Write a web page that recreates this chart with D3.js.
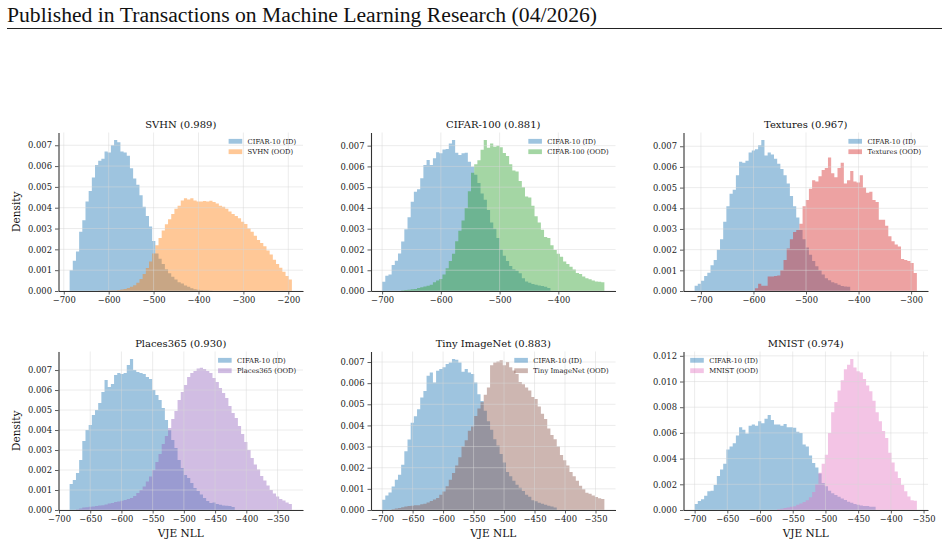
<!DOCTYPE html>
<html>
<head>
<meta charset="utf-8">
<script src="https://cdn.jsdelivr.net/npm/d3@7"></script>
<style>
  body { margin: 0; background: #fff; }
  svg text { font-family: "DejaVu Serif", serif; }
</style>
</head>
<body>
<div id="app"></div>
<script>
// Histogram densities, in units of 1e-3, 70 equal bins between range[0] and range[1]
const DENS = 1e-3;

const svhnRange = [-687, -192];
const svhnId = [1.0, 1.45, 1.9, 2.85, 3.4, 4.3, 4.8, 5.45, 6.05, 6.25,
  6.35, 6.7, 6.65, 7.0, 7.25, 7.15, 6.7, 6.65, 6.5, 5.9,
  5.4, 5.1, 4.6, 4.05, 3.6, 3.1, 2.4, 1.8, 1.55, 1.3,
  1.05, 0.85, 0.68, 0.55, 0.42, 0.36, 0.26, 0.2, 0.13, 0.09,
  0.06, 0.04, 0.03, 0.02, 0.01, 0, 0, 0, 0, 0,
  0, 0, 0, 0, 0, 0, 0, 0, 0, 0,
  0, 0, 0, 0, 0, 0, 0, 0, 0, 0];
const svhnOod = [0, 0, 0, 0, 0, 0, 0, 0, 0, 0.01,
  0.01, 0.01, 0.02, 0.02, 0.03, 0.05, 0.07, 0.1, 0.14, 0.2,
  0.28, 0.4, 0.58, 0.82, 1.1, 1.42, 1.8, 2.2, 2.55, 2.9,
  3.2, 3.45, 3.7, 3.95, 4.1, 4.35, 4.45, 4.4, 4.45, 4.35,
  4.3, 4.3, 4.32, 4.3, 4.33, 4.28, 4.2, 4.1, 4.05, 3.95,
  3.82, 3.7, 3.6, 3.5, 3.33, 3.22, 3.0, 2.85, 2.65, 2.45,
  2.3, 2.15, 1.95, 1.75, 1.5, 1.3, 1.12, 0.92, 0.72, 0.55];
const svhnTicks = [-700, -600, -500, -400, -300, -200];

const c100Range = [-700, -321.6];
const c100Id = [0.45, 0.74, 0.8, 1.25, 1.46, 1.81, 2.38, 2.97, 3.55, 4.3,
  4.78, 4.9, 5.43, 6.07, 6.31, 6.07, 6.39, 6.68, 6.63, 6.82,
  6.84, 7.1, 7.27, 6.66, 6.55, 6.63, 6.66, 6.23, 5.99, 5.6,
  5.2, 4.7, 4.4, 3.9, 3.3, 3.0, 2.55, 2.0, 1.7, 1.45,
  1.2, 1.05, 0.97, 0.85, 0.62, 0.46, 0.4, 0.34, 0.3, 0.26,
  0.24, 0.21, 0.15, 0, 0, 0, 0, 0, 0, 0,
  0, 0, 0, 0, 0, 0, 0, 0, 0, 0];
const c100Ood = [0, 0, 0, 0, 0, 0, 0.02, 0.05, 0.06, 0.08,
  0.1, 0.15, 0.18, 0.22, 0.25, 0.3, 0.42, 0.5, 0.58, 0.8,
  1.1, 1.45, 1.8, 2.4, 2.9, 3.4, 4.0, 4.8, 5.7, 6.1,
  6.3, 6.8, 7.27, 6.9, 7.1, 6.95, 7.0, 6.92, 6.65, 6.5,
  6.1, 5.8, 5.75, 5.3, 5.0, 4.55, 4.5, 4.1, 3.6, 3.3,
  2.95, 2.6, 2.55, 2.2, 1.97, 1.8, 1.65, 1.42, 1.3, 1.17,
  1.04, 0.87, 0.82, 0.7, 0.62, 0.57, 0.5, 0.46, 0.45, 0.42];
const c100Ticks = [-700, -600, -500, -400];

const texRange = [-712, -289];
const texId = [0.25, 0.35, 0.5, 0.72, 0.88, 1.25, 1.5, 2.0, 2.5, 3.35,
  4.1, 4.7, 4.9, 5.6, 6.25, 6.2, 6.3, 6.7, 6.8, 6.85,
  7.05, 7.3, 6.55, 6.7, 6.6, 6.4, 6.15, 5.9, 5.6, 5.2,
  4.6, 4.1, 3.55, 2.95, 2.5, 2.1, 1.75, 1.45, 1.2, 1.0,
  0.8, 0.62, 0.52, 0.42, 0.37, 0.3, 0.24, 0.22, 0.2, 0,
  0, 0, 0, 0, 0, 0, 0, 0, 0, 0,
  0, 0, 0, 0, 0, 0, 0, 0, 0, 0];
const texOod = [0, 0, 0, 0, 0, 0, 0, 0, 0, 0,
  0, 0, 0, 0, 0, 0, 0, 0, 0, 0.13,
  0.35, 0.25, 0.25, 0.7, 0.7, 0.72, 0.75, 1.0, 1.5, 2.05,
  2.5, 2.85, 2.95, 3.25, 4.1, 4.4, 4.95, 5.35, 5.3, 5.55,
  5.85, 5.95, 6.45, 5.7, 5.5, 5.95, 6.2, 5.2, 5.35, 5.8,
  5.3, 5.25, 5.6, 5.0, 4.75, 4.8, 4.4, 4.3, 3.45, 3.45,
  3.15, 2.65, 2.4, 2.25, 2.15, 1.55, 1.5, 1.45, 1.35, 0.87];
const texTicks = [-700, -600, -500, -400, -300];

const plRange = [-683, -327];
const plId = [1.3, 1.5, 1.85, 2.5, 3.45, 4.0, 4.25, 4.75, 5.0, 5.35,
  5.9, 6.5, 6.15, 6.3, 6.75, 6.85, 6.8, 6.85, 7.25, 7.55,
  7.0, 6.9, 6.85, 6.8, 6.65, 6.55, 6.0, 5.75, 5.5, 5.1,
  4.5, 4.0, 3.5, 3.1, 2.5, 2.1, 1.75, 1.6, 1.35, 1.1,
  0.95, 0.78, 0.6, 0.45, 0.35, 0.37, 0.3, 0.26, 0.23, 0.21,
  0.2, 0.15, 0, 0, 0, 0, 0, 0, 0, 0,
  0, 0, 0, 0, 0, 0, 0, 0, 0, 0];
const plOod = [0, 0, 0.03, 0.08, 0.12, 0.14, 0.16, 0.18, 0.2, 0.22,
  0.24, 0.28, 0.32, 0.35, 0.4, 0.43, 0.46, 0.5, 0.55, 0.6,
  0.7, 0.85, 1.0, 1.17, 1.42, 1.67, 2.0, 2.4, 2.8, 3.3,
  3.7, 4.1, 4.55, 4.95, 5.5, 5.9, 6.25, 6.65, 6.85, 6.95,
  7.08, 7.12, 7.05, 6.95, 6.85, 6.6, 6.4, 6.1, 5.85, 5.6,
  5.2, 4.85, 4.6, 4.2, 3.8, 3.4, 3.0, 2.6, 2.28, 2.02,
  1.7, 1.48, 1.22, 1.0, 0.82, 0.68, 0.55, 0.47, 0.38, 0.3];
const plTicks = [-700, -650, -600, -550, -500, -450, -400, -350];

const tinRange = [-700, -335.4];
const tinId = [0.48, 0.68, 0.83, 1.11, 1.43, 1.67, 2.14, 2.78, 3.33, 4.13,
  4.44, 4.76, 5.32, 5.63, 6.35, 6.5, 6.03, 6.59, 6.67, 6.75,
  6.9, 6.98, 7.14, 7.11, 6.98, 6.54, 6.67, 6.5, 6.43, 6.03,
  5.48, 5.16, 4.7, 4.2, 3.8, 3.35, 3.05, 2.65, 2.25, 1.8,
  1.6, 1.38, 1.2, 1.05, 0.9, 0.72, 0.63, 0.46, 0.41, 0.34,
  0.3, 0.25, 0.2, 0.17, 0.12, 0, 0, 0, 0, 0,
  0, 0, 0, 0, 0, 0, 0, 0, 0, 0];
const tinOod = [0, 0, 0, 0.03, 0.07, 0.1, 0.13, 0.16, 0.19, 0.2,
  0.22, 0.23, 0.27, 0.3, 0.36, 0.42, 0.5, 0.57, 0.72, 0.88,
  1.12, 1.43, 1.75, 2.1, 2.5, 3.0, 3.3, 3.75, 3.95, 4.45,
  4.8, 5.1, 5.45, 5.8, 6.85, 6.98, 7.02, 7.08, 6.85, 7.0,
  6.75, 6.6, 6.43, 6.05, 5.95, 5.8, 5.65, 5.35, 5.25, 4.9,
  4.55, 4.3, 3.85, 3.55, 3.35, 3.0, 2.6, 2.35, 2.1, 1.8,
  1.6, 1.38, 1.15, 0.98, 0.82, 0.77, 0.68, 0.62, 0.56, 0.52];
const tinTicks = [-700, -650, -600, -550, -500, -450, -400, -350];

const mnRange = [-700, -360.2];
const mnId = [0.47, 0.7, 0.83, 1.1, 1.45, 1.5, 1.95, 2.65, 3.15, 3.6,
  4.7, 4.95, 5.2, 5.8, 6.45, 6.25, 5.95, 6.55, 6.65, 6.55,
  6.9, 6.75, 7.1, 7.4, 7.0, 6.65, 6.65, 6.55, 6.7, 6.45,
  6.45, 6.4, 6.1, 6.0, 5.1, 4.95, 4.25, 3.65, 3.3, 2.85,
  2.1, 1.85, 1.5, 1.3, 1.17, 1.04, 0.9, 0.78, 0.65, 0.57,
  0.47, 0.4, 0.35, 0.31, 0.31, 0.26, 0.26, 0, 0, 0,
  0, 0, 0, 0, 0, 0, 0, 0, 0, 0];
const mnOod = [0, 0, 0, 0, 0, 0, 0, 0, 0, 0,
  0, 0, 0, 0, 0, 0, 0, 0, 0, 0,
  0, 0, 0, 0, 0, 0, 0.05, 0.1, 0.15, 0.2,
  0.26, 0.3, 0.4, 0.5, 0.62, 0.75, 1.0, 1.4, 2.0, 2.9,
  3.6, 4.3, 6.0, 7.6, 8.4, 9.3, 10.1, 10.95, 11.3, 11.75,
  11.1, 10.8, 10.7, 10.2, 9.7, 9.25, 8.5, 7.6, 6.9, 6.15,
  5.6, 4.45, 3.7, 3.0, 2.5, 1.95, 1.45, 1.05, 0.75, 0.72];
const mnTicks = [-700, -650, -600, -550, -500, -450, -400, -350];

const oodNames = ["SVHN", "CIFAR-100", "Textures", "Places365", "Tiny ImageNet", "MNIST"];
const aurocs = ["0.989", "0.881", "0.967", "0.930", "0.883", "0.974"];
const idName = "CIFAR-10";

const panels = [
  {range: svhnRange, id: svhnId, ood: svhnOod, ticks: svhnTicks, color: "#ff7f0e", legend: "right"},
  {range: c100Range, id: c100Id, ood: c100Ood, ticks: c100Ticks, color: "#2ca02c", legend: "right"},
  {range: texRange, id: texId, ood: texOod, ticks: texTicks, color: "#d62728", legend: "right"},
  {range: plRange, id: plId, ood: plOod, ticks: plTicks, color: "#9467bd", legend: "right"},
  {range: tinRange, id: tinId, ood: tinOod, ticks: tinTicks, color: "#8c564b", legend: "right"},
  {range: mnRange, id: mnId, ood: mnOod, ticks: mnTicks, color: "#e377c2", legend: "left"}
];

const idColor = "#1f77b4";
const alpha = 0.43;

const colLeft = [58.5, 371, 683.5];
const rowTop = [132.5, 351.5];
const pw = 244.5, ph = 158.5;

let svg = d3.select("#app")
  .append("svg")
    .attr("width", 948)
    .attr("height", 545);

// page header
svg.append("text")
  .attr("x", 7)
  .attr("y", 21.5)
  .attr("font-size", 20)
  .attr("textLength", 590)
  .attr("lengthAdjust", "spacingAndGlyphs")
  .style("font-family", "'Liberation Serif', serif")
  .attr("fill", "#111")
  .text("Published in Transactions on Machine Learning Research (04/2026)");
svg.append("line")
  .attr("x1", 7).attr("x2", 942)
  .attr("y1", 28.5).attr("y2", 28.5)
  .attr("stroke", "#222")
  .attr("stroke-width", 1.2);

panels.forEach(function(p, k) {
  let col = k % 3, row = Math.floor(k / 3);
  let g = svg.append("g")
    .attr("transform", "translate(" + colLeft[col] + "," + rowTop[row] + ")");

  let lo = p.range[0], hi = p.range[1];
  let pad = (hi - lo) * 0.05;
  let x = d3.scaleLinear().domain([lo - pad, hi + pad]).range([0, pw]);
  let yMax = d3.max(p.id.concat(p.ood)) * DENS * 1.05;
  let y = d3.scaleLinear().domain([0, yMax]).range([ph, 0]);
  let yTicks = y.ticks(8);

  let binW = (hi - lo) / p.id.length;
  function steps(vals) {
    let pts = vals.map((v, i) => [lo + i * binW, v * DENS]);
    pts.push([hi, vals[vals.length - 1] * DENS]);
    return pts;
  }
  let area = d3.area()
    .curve(d3.curveStepAfter)
    .x(d => x(d[0]))
    .y0(y(0))
    .y1(d => y(d[1]));

  g.append("path").attr("d", area(steps(p.id)))
    .attr("fill", idColor).attr("fill-opacity", alpha);
  g.append("path").attr("d", area(steps(p.ood)))
    .attr("fill", p.color).attr("fill-opacity", alpha);

  // grid
  let grid = g.append("g").attr("stroke", "#d8d8d8").attr("stroke-opacity", 0.6).attr("stroke-width", 0.8);
  grid.selectAll(".gx").data(p.ticks).enter().append("line")
    .attr("x1", d => x(d)).attr("x2", d => x(d))
    .attr("y1", 0).attr("y2", ph);
  grid.selectAll(".gy").data(yTicks).enter().append("line")
    .attr("x1", 0).attr("x2", pw)
    .attr("y1", d => y(d)).attr("y2", d => y(d));

  // axes
  let ax = g.append("g")
    .attr("transform", "translate(0," + ph + ")")
    .call(d3.axisBottom(x).tickValues(p.ticks).tickSize(3.5).tickSizeOuter(0).tickPadding(3).tickFormat(d3.format("d")));
  let ay = g.append("g")
    .call(d3.axisLeft(y).tickValues(yTicks).tickSize(3.5).tickSizeOuter(0).tickPadding(3).tickFormat(d3.format(".3f")));
  [ax, ay].forEach(function(a) {
    a.select(".domain").attr("stroke", "#333").attr("stroke-width", 1.1);
    a.selectAll(".tick line").attr("stroke", "#333").attr("stroke-width", 0.8);
    a.selectAll(".tick text")
      .attr("font-size", 8.4)
      .attr("fill", "#222")
      .style("font-family", "'DejaVu Serif', serif");
  });

  // title
  g.append("text")
    .attr("x", pw / 2).attr("y", -5)
    .attr("text-anchor", "middle")
    .attr("font-size", 10)
    .attr("fill", "#111")
    .text(oodNames[k] + " (" + aurocs[k] + ")");

  if (col === 0) {
    g.append("text")
      .attr("transform", "translate(" + (19.5 - colLeft[0]) + "," + (ph / 2) + ") rotate(-90)")
      .attr("text-anchor", "middle")
      .attr("font-size", 10.5)
      .attr("fill", "#111")
      .text("Density");
  }
  if (row === 1) {
    g.append("text")
      .attr("x", pw / 2).attr("y", ph + 26.5)
      .attr("text-anchor", "middle")
      .attr("font-size", 10.5)
      .attr("fill", "#111")
      .text("VJE NLL");
  }

  // legend
  let items = [
    {label: idName + " (ID)", color: idColor},
    {label: oodNames[k] + " (OOD)", color: p.color}
  ];
  let fs = 6.8, hl = 13.6, hh = 4.8, gap = 5.4;
  let leg = g.append("g");
  let rowsG = leg.selectAll("g").data(items).enter().append("g")
    .attr("transform", (d, i) => "translate(0," + (8.8 + i * 10.4) + ")");
  rowsG.append("rect")
    .attr("x", 0).attr("y", -hh / 2)
    .attr("width", hl).attr("height", hh)
    .attr("fill", d => d.color).attr("fill-opacity", alpha);
  let texts = rowsG.append("text")
    .attr("x", hl + gap).attr("y", 2.4)
    .attr("font-size", fs)
    .attr("fill", "#222")
    .text(d => d.label);
  let maxW = d3.max(texts.nodes(), n => n.getComputedTextLength());
  let legW = hl + gap + maxW;
  let lx = p.legend === "left" ? 6.7 : pw - 6.8 - legW;
  leg.attr("transform", "translate(" + lx + ",0)");
});
</script>
</body>
</html>
